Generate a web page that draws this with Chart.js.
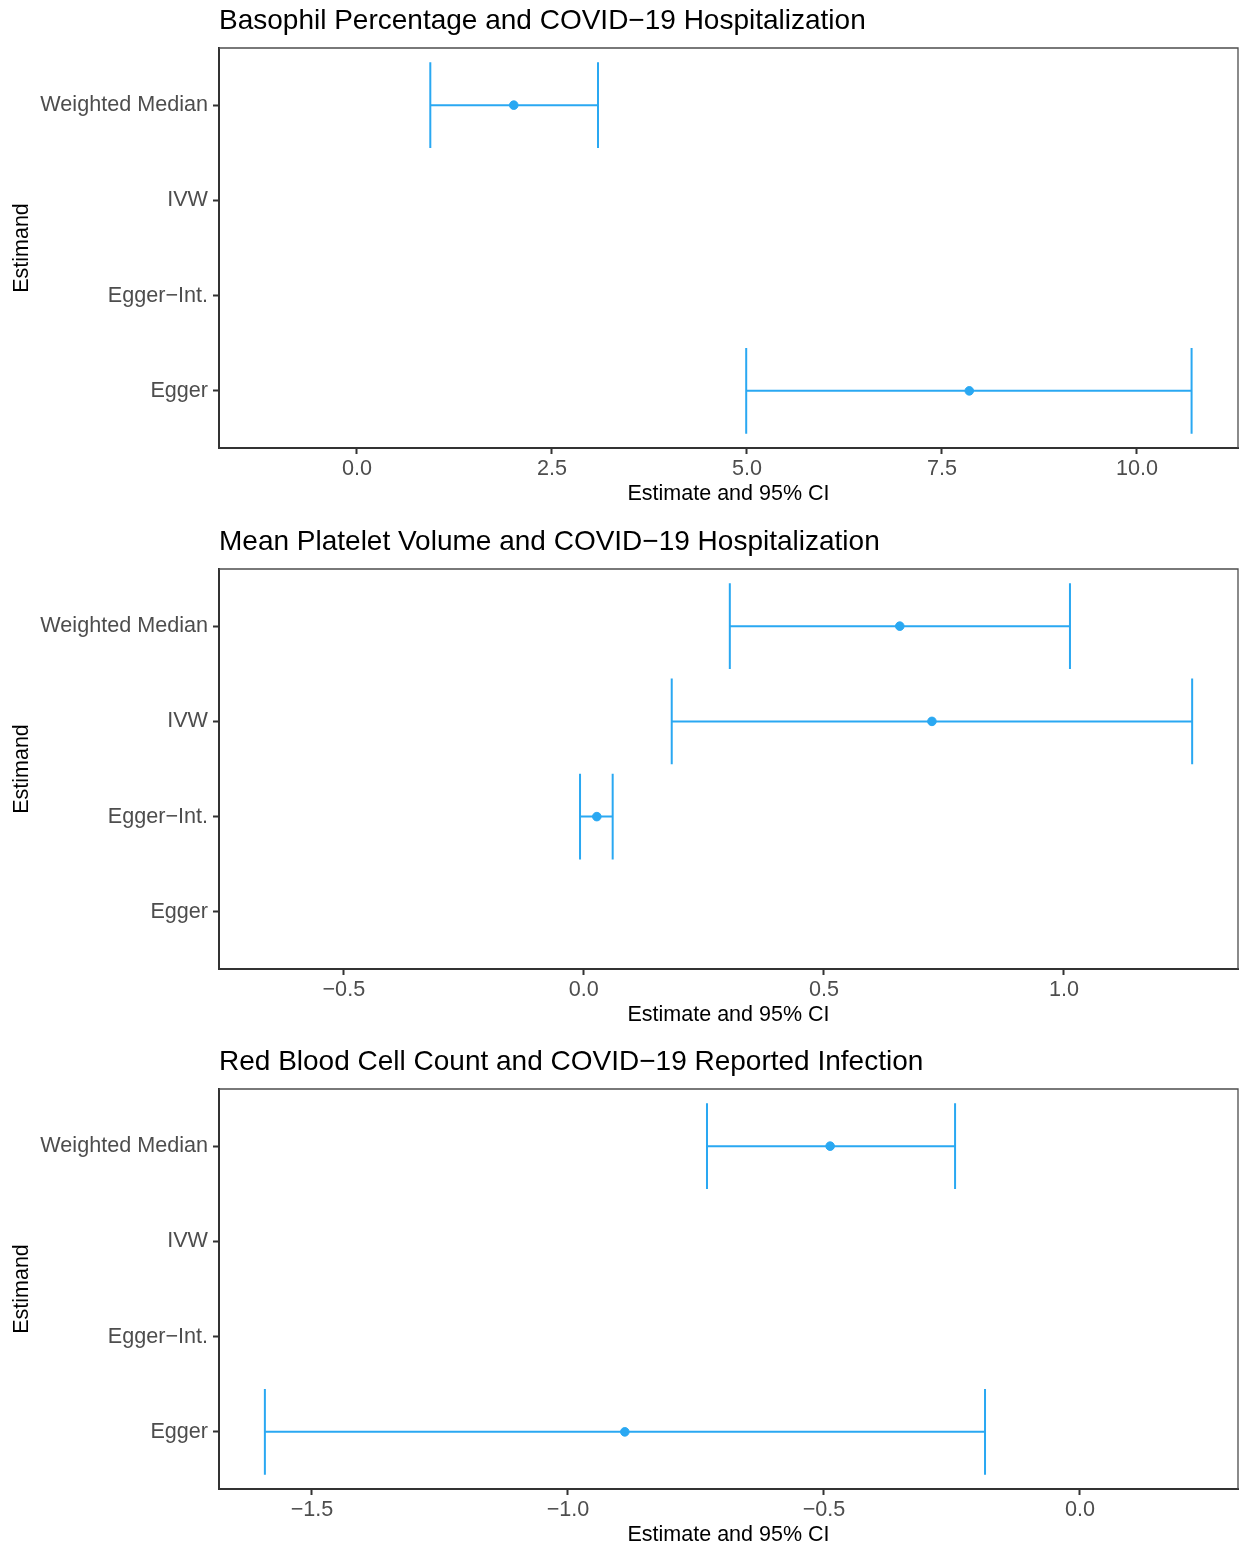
<!DOCTYPE html>
<html>
<head>
<meta charset="utf-8">
<script src="https://cdn.jsdelivr.net/npm/chart.js@4.4.1/dist/chart.umd.min.js"></script>
<style>
  html, body { margin: 0; padding: 0; background: #fff; overflow: hidden; }
  .panel { position: absolute; left: 0; width: 1239px; height: 520px; }
</style>
</head>
<body>
<div class="panel" style="top:0px"><canvas id="c1" width="1239" height="520"></canvas></div>
<div class="panel" style="top:521px"><canvas id="c2" width="1239" height="520"></canvas></div>
<div class="panel" style="top:1041px"><canvas id="c3" width="1239" height="520"></canvas></div>
<script>
// categories, top to bottom
const estimands = ['Weighted Median', 'IVW', 'Egger\u2212Int.', 'Egger'];

// panel 1: basophil percentage
const basoTitle = 'Basophil Percentage and COVID\u221219 Hospitalization';
const basoEst = [2.01, null, null, 7.85];
const basoLow = [0.94, null, null, 4.99];
const basoHigh = [3.09, null, null, 10.70];
const basoTicks = [0, 2.5, 5, 7.5, 10];
const basoTickLabels = ['0.0', '2.5', '5.0', '7.5', '10.0'];
const basoRange = [-1.769, 11.295];

// panel 2: mean platelet volume
const mpvTitle = 'Mean Platelet Volume and COVID\u221219 Hospitalization';
const mpvEst = [0.658, 0.725, 0.027, null];
const mpvLow = [0.304, 0.183, -0.008, null];
const mpvHigh = [1.0125, 1.267, 0.060, null];
const mpvTicks = [-0.5, 0, 0.5, 1];
const mpvTickLabels = ['\u22120.5', '0.0', '0.5', '1.0'];
const mpvRange = [-0.760, 1.3625];

// panel 3: red blood cell count
const rbcTitle = 'Red Blood Cell Count and COVID\u221219 Reported Infection';
const rbcEst = [-0.488, null, null, -0.889];
const rbcLow = [-0.7285, null, null, -1.592];
const rbcHigh = [-0.244, null, null, -0.1855];
const rbcTicks = [-1.5, -1, -0.5, 0];
const rbcTickLabels = ['\u22121.5', '\u22121.0', '\u22120.5', '0.0'];
const rbcRange = [-1.6816, 0.3086];

const blue = '#2AA8F2';
const fontFamily = '"Liberation Sans", Arial, sans-serif';
const capHalf = 0.45;

// top and right frame lines of the panel
const framePlugin = {
  id: 'frame',
  afterDraw(chart) {
    const a = chart.chartArea;
    const ctx = chart.ctx;
    ctx.save();
    ctx.strokeStyle = '#4d4d4d';
    ctx.lineWidth = 1.3;
    ctx.beginPath();
    ctx.moveTo(a.left, a.top);
    ctx.lineTo(a.right, a.top);
    ctx.lineTo(a.right, a.bottom);
    ctx.stroke();
    ctx.restore();
  }
};

function lineSet(points) {
  return {
    type: 'scatter',
    data: points,
    showLine: true,
    borderColor: blue,
    borderWidth: 2,
    pointRadius: 0,
    pointHoverRadius: 0
  };
}

function buildChart(id, title, est, low, high, ticks, tickLabels, range) {
  const datasets = [];
  est.forEach((v, i) => {
    if (v === null) return;
    const y = i + 1;
    datasets.push(lineSet([{x: low[i], y: y}, {x: high[i], y: y}]));
    datasets.push(lineSet([{x: low[i], y: y - capHalf}, {x: low[i], y: y + capHalf}]));
    datasets.push(lineSet([{x: high[i], y: y - capHalf}, {x: high[i], y: y + capHalf}]));
  });
  datasets.push({
    type: 'scatter',
    data: est.map((v, i) => v === null ? null : {x: v, y: i + 1}).filter(p => p),
    backgroundColor: blue,
    borderColor: blue,
    pointRadius: 4.3,
    borderWidth: 1
  });

  new Chart(document.getElementById(id), {
    type: 'scatter',
    data: { datasets: datasets },
    options: {
      responsive: false,
      animation: false,
      devicePixelRatio: 1,
      layout: { autoPadding: false, padding: { left: 0, right: 1, top: 0, bottom: 0 } },
      plugins: {
        legend: { display: false },
        tooltip: { enabled: false },
        title: {
          display: true,
          text: title,
          align: 'start',
          fullSize: false,
          color: '#000',
          font: { family: fontFamily, size: 28, weight: 'normal' },
          padding: { top: 4, bottom: 10.4 }
        }
      },
      scales: {
        x: {
          type: 'linear',
          min: range[0],
          max: range[1],
          afterBuildTicks: s => { s.ticks = ticks.map(v => ({ value: v })); },
          afterFit: s => { s.height = 72; s.paddingLeft = 0; s.paddingRight = 0; },
          ticks: {
            color: '#4d4d4d',
            font: { family: fontFamily, size: 21.6 },
            padding: 2.5,
            maxRotation: 0,
            callback: (v) => tickLabels[ticks.indexOf(v)]
          },
          grid: { drawOnChartArea: false, drawTicks: true, tickLength: 6, tickWidth: 2, tickColor: '#333' },
          border: { display: true, color: '#333', width: 2 },
          title: {
            display: true,
            text: 'Estimate and 95% CI',
            color: '#000',
            font: { family: fontFamily, size: 21.5 },
            padding: { top: 0, bottom: 12.6 }
          }
        },
        y: {
          type: 'linear',
          reverse: true,
          min: 0.4,
          max: 4.6,
          afterBuildTicks: s => { s.ticks = estimands.map((c, i) => ({ value: i + 1 })); },
          afterFit: s => { s.width = 219; s.paddingTop = 0; s.paddingBottom = 0; },
          ticks: {
            color: '#4d4d4d',
            font: { family: fontFamily, size: 21.6 },
            padding: 5,
            callback: (v) => estimands[v - 1]
          },
          grid: { drawOnChartArea: false, drawTicks: true, tickLength: 6, tickWidth: 2, tickColor: '#333' },
          border: { display: true, color: '#333', width: 2 },
          title: {
            display: true,
            text: 'Estimand',
            color: '#000',
            font: { family: fontFamily, size: 21.5 },
            padding: { top: 9.2, bottom: 0 }
          }
        }
      }
    },
    plugins: [framePlugin]
  });
}

buildChart('c1', basoTitle, basoEst, basoLow, basoHigh, basoTicks, basoTickLabels, basoRange);
buildChart('c2', mpvTitle, mpvEst, mpvLow, mpvHigh, mpvTicks, mpvTickLabels, mpvRange);
buildChart('c3', rbcTitle, rbcEst, rbcLow, rbcHigh, rbcTicks, rbcTickLabels, rbcRange);
</script>
</body>
</html>
